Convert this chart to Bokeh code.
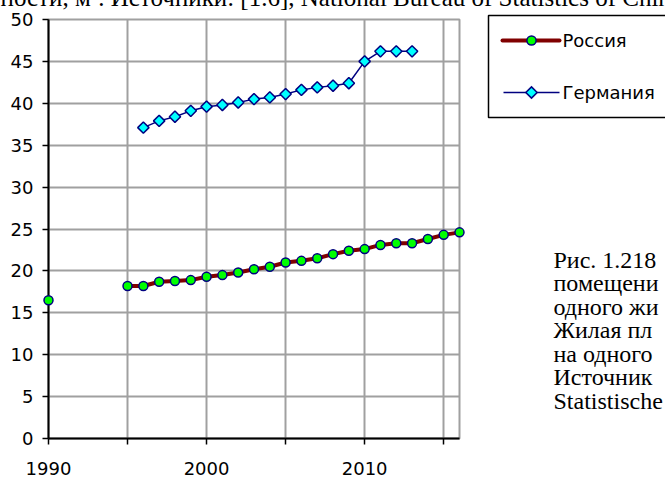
import math
from bokeh.plotting import figure
from bokeh.models import Range1d, FixedTicker
from bokeh.core.properties import value
from bokeh.embed import file_html
from bokeh.resources import INLINE

nan = float("nan")

# ---- data ----
years_russia = list(range(1990, 2017))
russia = [16.5, nan, nan, nan, nan,
          18.2, 18.2, 18.7, 18.8, 18.9, 19.3, 19.5, 19.8, 20.2, 20.5, 21.0,
          21.2, 21.5, 22.0, 22.4, 22.6, 23.1, 23.3, 23.3, 23.8, 24.3, 24.6]
years_germany = list(range(1996, 2014))
germany = [37.1, 37.9, 38.4, 39.1, 39.6, 39.8, 40.1, 40.5, 40.7, 41.1,
           41.6, 41.9, 42.1, 42.4, 45.0, 46.2, 46.2, 46.2]
series_names = ["Россия", "Германия"]
x_ticks = [1990, 1995, 2000, 2005, 2010, 2015]
x_tick_labels = {1995: "", 2005: "", 2015: ""}
y_ticks = [0, 5, 10, 15, 20, 25, 30, 35, 40, 45, 50]
top_text = ["ности, м². Источники: [1.6], National Bureau of Statistics of China"]
caption_lines = ["Рис. 1.218", "помещени", "одного жи", "Жилая пл",
                 "на одного", "Источник", "Statistische"]

# ---- figure ----
W, H = 665, 480
FL, FT, FR, FB = 48, 19, 459, 438   # frame edges inside the canvas
X0, X1, Y0, Y1 = 1990, 2016, 0, 50


def px_to_x(px):
    return X0 + (px - FL) * (X1 - X0) / (FR - FL)


def py_to_y(py):
    return Y0 + (FB - py) * (Y1 - Y0) / (FB - FT)


p = figure(width=W, height=H, output_backend="svg", toolbar_location=None,
           x_range=Range1d(X0, X1), y_range=Range1d(Y0, Y1),
           min_border_left=FL, min_border_top=FT,
           min_border_right=W - FR, min_border_bottom=H - FB)
p.background_fill_color = "white"
p.border_fill_color = "white"
p.outline_line_color = "#a0a0a0"
p.outline_line_width = 2

for ax in (p.xaxis[0], p.yaxis[0]):
    ax.axis_line_color = "black"
    ax.axis_line_width = 2
    ax.major_tick_line_color = "black"
    ax.major_tick_line_width = 1.5
    ax.major_tick_in = 0
    ax.major_tick_out = 6
    ax.minor_tick_line_color = None
    ax.major_label_text_font = "DejaVu Sans"
    ax.major_label_text_font_size = "18px"
    ax.major_label_text_color = "black"

p.xaxis.ticker = FixedTicker(ticks=x_ticks)
p.xaxis.major_label_overrides = x_tick_labels
p.xaxis.major_label_standoff = 17
p.yaxis.ticker = FixedTicker(ticks=y_ticks)
p.yaxis.major_label_standoff = 9

p.xgrid.ticker = FixedTicker(ticks=x_ticks)
p.ygrid.ticker = FixedTicker(ticks=y_ticks)
for g in (p.xgrid[0], p.ygrid[0]):
    g.grid_line_color = "#a0a0a0"
    g.grid_line_width = 2

NAVY = "#000080"
RU_LINE = dict(line_color="#800000", line_width=4)
RU_FILL = "#00ff00"
DE_LINE = dict(line_color=NAVY, line_width=1.5)
DE_FILL = "#00ffff"
EDGE = dict(line_color=NAVY, line_width=1.5)

p.line(years_russia, russia, **RU_LINE)
p.scatter(years_russia, russia, marker="circle", size=9, fill_color=RU_FILL,
          level="overlay", **EDGE)
p.line(years_germany, germany, **DE_LINE)
p.scatter(years_germany, germany, marker="square", angle=math.pi / 4, size=8,
          fill_color=DE_FILL, level="overlay", **EDGE)

# ---- legend box (drawn beside the plot area) ----
p.quad(left=[px_to_x(488)], right=[px_to_x(690)],
       top=[py_to_y(15)], bottom=[py_to_y(117)],
       fill_color="white", line_color="black", line_width=1.5,
       level="overlay")
leg_rows = [40, 92]
leg_cx = 531
p.segment(x0=[px_to_x(502)], x1=[px_to_x(559)],
          y0=[py_to_y(leg_rows[0])], y1=[py_to_y(leg_rows[0])],
          line_cap="round", level="overlay", **RU_LINE)
p.segment(x0=[px_to_x(503)], x1=[px_to_x(559)],
          y0=[py_to_y(leg_rows[1])], y1=[py_to_y(leg_rows[1])],
          level="overlay", **DE_LINE)

# legend swatch: circle (round-capped dots, outline then fill)
for w, col in ((10.5, NAVY), (7.5, RU_FILL)):
    p.segment(x0=[px_to_x(leg_cx - 0.05)], x1=[px_to_x(leg_cx + 0.05)],
              y0=[py_to_y(leg_rows[0])], y1=[py_to_y(leg_rows[0])],
              line_color=col, line_width=w, line_cap="round",
              level="overlay")
# legend swatch: diamond (butt-capped square strokes along a diagonal)
for s, col in ((9.5, NAVY), (6.5, DE_FILL)):
    d = s / 2 * math.cos(math.pi / 4)
    p.segment(x0=[px_to_x(leg_cx - d)], x1=[px_to_x(leg_cx + d)],
              y0=[py_to_y(leg_rows[1] + d)], y1=[py_to_y(leg_rows[1] - d)],
              line_color=col, line_width=s, line_cap="butt",
              level="overlay")

p.text(x=[px_to_x(562)] * 2, y=[py_to_y(r) for r in leg_rows],
       text=series_names, text_font=value("DejaVu Sans"),
       text_font_size="18px", text_baseline="middle", text_align="left",
       text_color="black", level="overlay")

# ---- surrounding document text (cut by the picture's edges) ----
p.text(x=[px_to_x(0)], y=[py_to_y(-3)], text=top_text,
       text_font=value("Liberation Serif"), text_font_size="25px",
       text_baseline="alphabetic", text_align="left", text_color="black",
       level="overlay")
p.text(x=[px_to_x(553)] * len(caption_lines),
       y=[py_to_y(259 + 23.5 * i) for i in range(len(caption_lines))],
       text=caption_lines,
       text_font=value("Liberation Serif"), text_font_size="24px",
       text_baseline="alphabetic", text_align="left", text_color="black",
       level="overlay")

open("out.html", "w").write(file_html(p, INLINE))
